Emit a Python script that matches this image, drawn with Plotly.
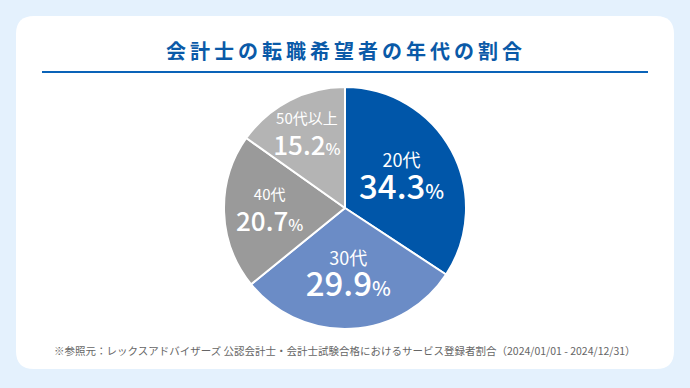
import plotly.graph_objects as go

labels = ["20代", "30代", "40代", "50代以上"]
values = [34.3, 29.9, 20.7, 15.2]
colors = ["#0056a9", "#6b8cc6", "#9a9a9a", "#b4b4b4"]
title_text = "会計士の転職希望者の年代の割合"
source_text = "※参照元：レックスアドバイザーズ 公認会計士・会計士試験合格におけるサービス登録者割合（2024/01/01 - 2024/12/31）"

W, H = 690, 388
FONT = "Noto Sans CJK JP"

# text styling per slice (large slices get larger text)
label_px = [18, 18, 15, 15]
num_px = [33, 33, 26, 26]
pct_px = [20, 20, 16, 16]

texts = [
    f"<span style='font-size:{lp}px'>{l}</span><br>"
    f"<span style='font-size:{npx}px;font-weight:500'>{v:.1f}</span>"
    f"<span style='font-size:{pp}px;font-weight:500'>%</span>"
    for l, v, lp, npx, pp in zip(labels, values, label_px, num_px, pct_px)
]

cx, cy, r = 345, 208, 121
fig = go.Figure(go.Pie(
    labels=labels, values=values, sort=False, direction="clockwise", rotation=0,
    marker=dict(colors=colors, line=dict(color="white", width=2)),
    text=texts, texttemplate="%{text}", textinfo="text",
    textposition="inside", insidetextorientation="horizontal",
    textfont=dict(family=FONT, color="white", size=24),
    hoverinfo="skip", showlegend=False,
    domain=dict(x=[(cx - r) / W, (cx + r) / W], y=[(H - cy - r) / H, (H - cy + r) / H]),
))

# rounded card
x0, x1, y0, y1, rad = 16, 674, 16, 369, 18
def px(x): return x / W
def py(y): return 1 - y / H
path = (f"M {px(x0+rad)} {py(y0)} L {px(x1-rad)} {py(y0)} "
        f"Q {px(x1)} {py(y0)} {px(x1)} {py(y0+rad)} L {px(x1)} {py(y1-rad)} "
        f"Q {px(x1)} {py(y1)} {px(x1-rad)} {py(y1)} L {px(x0+rad)} {py(y1)} "
        f"Q {px(x0)} {py(y1)} {px(x0)} {py(y1-rad)} L {px(x0)} {py(y0+rad)} "
        f"Q {px(x0)} {py(y0)} {px(x0+rad)} {py(y0)} Z")
fig.add_shape(type="path", path=path, xref="paper", yref="paper",
              fillcolor="white", line=dict(width=0), layer="below")
fig.add_shape(type="line", xref="paper", yref="paper", x0=px(42), x1=px(648),
              y0=py(72), y1=py(72), line=dict(color="#0a63b8", width=2))

fig.add_annotation(text=f"<span style='letter-spacing:4px'><b>{title_text}</b></span>",
                   x=px(346), y=py(51), xref="paper", yref="paper",
                   showarrow=False, font=dict(family=FONT, size=20, color="#0a5aa8"),
                   xanchor="center", yanchor="middle")
fig.add_annotation(text=source_text, x=px(52), y=py(350), xref="paper", yref="paper",
                   showarrow=False, font=dict(family=FONT, size=10.5, color="#666666"),
                   xanchor="left", yanchor="middle")

fig.update_layout(width=W, height=H, margin=dict(l=0, r=0, t=0, b=0),
                  paper_bgcolor="#e4f1fd", plot_bgcolor="#e4f1fd",
                  font=dict(family=FONT),
                  uniformtext=dict(minsize=24, mode="show"))
fig.write_html("out.html", config={"displayModeBar": False},
               post_script="document.body.style.margin='0';")
